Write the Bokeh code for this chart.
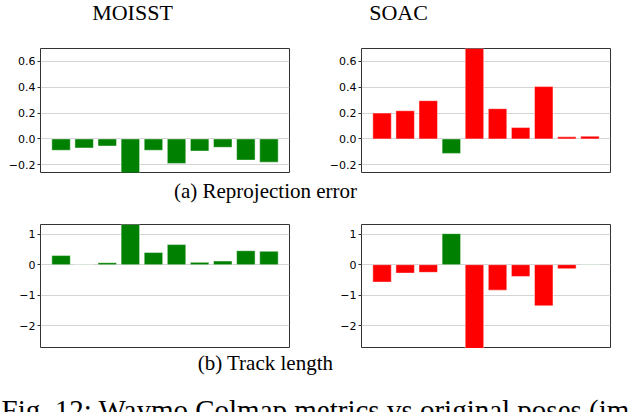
from bokeh.plotting import figure
from bokeh.models import Range1d, FixedTicker, ColumnDataSource
from bokeh.core.properties import value
from bokeh.layouts import row, column
from bokeh.embed import file_html
from bokeh.resources import INLINE

# ---- data ----
runs = list(range(10))
methods = ["MOISST", "SOAC"]
moisst_reproj = [-0.088, -0.070, -0.055, -0.30, -0.088, -0.19, -0.094, -0.065, -0.164, -0.18]
soac_reproj = [0.20, 0.218, 0.296, -0.112, 0.75, 0.234, 0.088, 0.405, 0.016, 0.021]
moisst_track = [0.30, 0.01, 0.066, 1.40, 0.40, 0.66, 0.077, 0.12, 0.46, 0.44]
soac_track = [-0.57, -0.275, -0.25, 1.02, -2.90, -0.835, -0.385, -1.35, -0.13, 0.01]
reproj_ticks = [-0.2, 0.0, 0.2, 0.4, 0.6]
reproj_labels = ["\u22120.2", "0.0", "0.2", "0.4", "0.6"]
track_ticks = [-2.0, -1.0, 0.0, 1.0]
track_labels = ["\u22122", "\u22121", "0", "1"]
caption_a = "(a) Reprojection error"
caption_b = "(b) Track length"
fig_caption = "Fig. 12: Waymo Colmap metrics vs original poses (im"

GREEN = "#008000"
RED = "#ff0000"
SERIF = value("Liberation Serif")
W = 632


def make_panel(vals, lower_better, yr, ticks, labels, left, right, top, bottom):
    colors = []
    for v in vals:
        good = (v < 0) if lower_better else (v > 0)
        colors.append(GREEN if good else RED)
    src = ColumnDataSource(dict(x=runs, top=vals, color=colors))
    p = figure(frame_width=249, frame_height=124, output_backend="svg", toolbar_location=None,
               x_range=Range1d(-0.89, 9.89), y_range=Range1d(*yr),
               min_border_left=left, min_border_right=right, min_border_top=top,
               min_border_bottom=bottom)
    p.vbar(x="x", top="top", bottom=0, width=0.8, source=src, fill_color="color",
           line_color="white", line_alpha=0.45, line_width=1)
    p.xaxis.visible = False
    p.xgrid.visible = False
    p.ygrid.grid_line_color = "#d4d4d4"
    p.ygrid.grid_line_width = 1
    p.ygrid.ticker = FixedTicker(ticks=ticks)
    ax = p.yaxis[0]
    ax.ticker = FixedTicker(ticks=ticks)
    ax.major_label_overrides = {t: l for t, l in zip(ticks, labels)}
    ax.major_label_text_font = "DejaVu Sans"
    ax.major_label_text_font_size = "11px"
    ax.major_label_text_color = "black"
    ax.major_label_standoff = 2
    ax.major_tick_out = 3
    ax.major_tick_in = 0
    ax.major_tick_line_color = "#333333"
    ax.minor_tick_line_color = None
    ax.axis_line_color = None
    p.outline_line_color = "#333333"
    p.outline_line_width = 1
    p.background_fill_color = "white"
    p.border_fill_color = "white"
    return p


def text_strip(h):
    # a blank strip whose ranges are in pixels (y grows downward), used for titles / captions
    q = figure(frame_width=W, frame_height=h, output_backend="svg", toolbar_location=None,
               x_range=Range1d(0, W), y_range=Range1d(h, 0), min_border=0)
    q.axis.visible = False
    q.grid.visible = False
    q.outline_line_color = None
    q.border_fill_color = "white"
    q.background_fill_color = "white"
    return q


titles = text_strip(30)
titles.text(x=[132, 398], y=[12, 12], text=methods, text_font=SERIF, text_font_size="22px",
            text_align="center", text_baseline="middle", text_color="black")

p1 = make_panel(moisst_reproj, True, (-0.26, 0.70), reproj_ticks, reproj_labels, 40, 36, 18, 4)
p2 = make_panel(soac_reproj, True, (-0.26, 0.70), reproj_ticks, reproj_labels, 36, 22, 18, 4)
p3 = make_panel(moisst_track, False, (-2.75, 1.32), track_ticks, track_labels, 40, 36, 20, 0)
p4 = make_panel(soac_track, False, (-2.75, 1.32), track_ticks, track_labels, 36, 22, 20, 0)

cap1 = text_strip(28)
cap1.text(x=[265], y=[14], text=[caption_a], text_font=SERIF, text_font_size="21px",
          text_align="center", text_baseline="middle", text_color="black")

cap2 = text_strip(64)
cap2.text(x=[265], y=[14], text=[caption_b], text_font=SERIF, text_font_size="21px",
          text_align="center", text_baseline="middle", text_color="black")
cap2.text(x=[1], y=[61], text=[fig_caption], text_font=SERIF, text_font_size="29px",
          text_align="left", text_baseline="middle", text_color="black")

layout = column(titles, row(p1, p2), cap1, row(p3, p4), cap2)

open("out.html", "w").write(file_html(layout, INLINE))
